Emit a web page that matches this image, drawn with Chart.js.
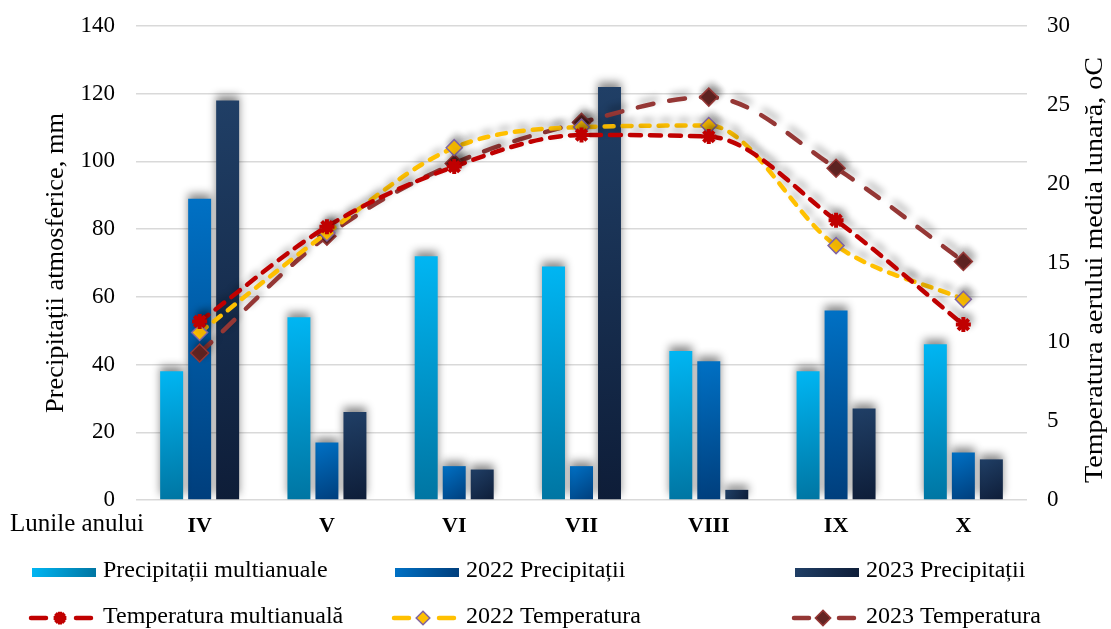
<!DOCTYPE html>
<html>
<head>
<meta charset="utf-8">
<script src="https://cdn.jsdelivr.net/npm/chart.js@4.4.1/dist/chart.umd.min.js"></script>
<style>
  html, body { margin: 0; padding: 0; background: #ffffff; }
  canvas { display: block; }
</style>
</head>
<body>
<canvas id="chart" width="1111" height="629"></canvas>
<script>
// Months of the growing season (Roman numerals)
const months = ['IV', 'V', 'VI', 'VII', 'VIII', 'IX', 'X'];

// Monthly precipitation, mm
const precipMulti = [38, 54, 72, 69, 44, 38, 46];
const precip2022  = [89, 17, 10, 10, 41, 56, 14];
const precip2023  = [118, 26, 9, 122, 3, 27, 12];

// Mean monthly air temperature, °C
const tempMulti = [11.3, 17.3, 21.1, 23.1, 23.0, 17.7, 11.1];
const temp2022  = [10.6, 16.9, 22.3, 23.6, 23.7, 16.1, 12.7];
const temp2023  = [9.3, 16.7, 21.3, 23.9, 25.5, 21.0, 15.1];

// Axis ranges and tick steps
const precipAxis = { min: 0, max: 140, step: 20 };
const tempAxis   = { min: 0, max: 30, step: 5 };

const SERIF = "'Liberation Serif', 'Times New Roman', serif";
const CAT_PCT = 0.66;
const BAR_PCT = 0.82;

// Per-bar diagonal gradient, computed from the bar's own scale position
function barGradient(light, dark) {
  return (c) => {
    const chart = c.chart;
    const area = chart.chartArea;
    if (!area || c.type !== 'data' || c.raw == null) return light;
    const xs = chart.scales.x, ys = chart.scales.y;
    const catW = area.width / months.length;
    const slot = catW * CAT_PCT / 3;
    const cx = xs.getPixelForValue(c.dataIndex) + (c.datasetIndex - 1) * slot;
    const half = slot * BAR_PCT / 2;
    const top = ys.getPixelForValue(c.raw);
    const bot = ys.getPixelForValue(0);
    const g = chart.ctx.createLinearGradient(cx - half, top, cx + half, bot);
    g.addColorStop(0, light);
    g.addColorStop(1, dark);
    return g;
  };
}

const barStyles = [
  ['#00B6F3', '#0075A2'],
  ['#0071C5', '#003E7C'],
  ['#203F66', '#0E1D38']
];

// Soft drop shadow under bars and lines
const shadowPlugin = {
  id: 'softShadow',
  beforeDatasetDraw(chart, args) {
    const ctx = chart.ctx;
    ctx.save();
    const isLine = args.meta.type === 'line';
    ctx.shadowColor = isLine ? 'rgba(0,0,0,0.32)' : 'rgba(0,0,0,0.45)';
    ctx.shadowBlur = isLine ? 7 : 9;
    ctx.shadowOffsetX = isLine ? 3 : 0;
    ctx.shadowOffsetY = -5;
  },
  afterDatasetDraw(chart) {
    chart.ctx.restore();
  }
};

// Rotated text stretched to a given length
function rotatedTitle(ctx, text, cx, cy, size, length) {
  ctx.save();
  ctx.translate(cx, cy);
  ctx.rotate(-Math.PI / 2);
  ctx.font = size + 'px ' + SERIF;
  ctx.textAlign = 'center';
  ctx.textBaseline = 'middle';
  const w = ctx.measureText(text).width;
  ctx.scale(length / w, 1);
  ctx.fillText(text, 0, 0);
  ctx.restore();
}

function drawMarkerPath(ctx, style, r, x, y) {
  if (style === 'rectRot') {
    ctx.moveTo(x, y - r); ctx.lineTo(x + r, y); ctx.lineTo(x, y + r); ctx.lineTo(x - r, y); ctx.closePath();
  } else {
    for (let k = 0; k < 4; k++) {
      const a = k * Math.PI / 4;
      ctx.moveTo(x + Math.cos(a) * r, y + Math.sin(a) * r);
      ctx.lineTo(x - Math.cos(a) * r, y - Math.sin(a) * r);
    }
  }
}

// Axis titles, the x-axis caption and the two-row legend
const decorPlugin = {
  id: 'decor',
  afterDraw(chart) {
    const ctx = chart.ctx;
    ctx.save();
    ctx.fillStyle = '#000';

    rotatedTitle(ctx, 'Precipitații atmosferice, mm', 56, 263, 25, 300);
    rotatedTitle(ctx, 'Temperatura aerului media lunară, oC', 1095, 270, 25, 426);

    // caption in front of the month labels
    ctx.textBaseline = 'middle';
    ctx.textAlign = 'left';
    ctx.font = '25px ' + SERIF;
    ctx.fillText('Lunile anului', 10, 524);

    // legend
    const cols = [32, 395, 795];
    const rows = [572, 618];
    const sw = 64;
    chart.data.datasets.forEach((ds, i) => {
      const col = i % 3, row = Math.floor(i / 3);
      const x = cols[col], y = rows[row];
      if (ds.type === 'bar') {
        const g = ctx.createLinearGradient(x, y - 4, x + sw, y + 4);
        g.addColorStop(0, ds.legendColors[0]);
        g.addColorStop(1, ds.legendColors[1]);
        ctx.fillStyle = g;
        ctx.fillRect(x, y - 4, sw, 9);
      } else {
        ctx.save();
        ctx.strokeStyle = ds.borderColor;
        ctx.lineWidth = 4.5;
        ctx.lineCap = 'round';
        ctx.beginPath();
        ctx.moveTo(x - 1, y); ctx.lineTo(x + 14, y);
        ctx.moveTo(x + 44, y); ctx.lineTo(x + 59, y);
        ctx.stroke();
        ctx.fillStyle = ds.pointBackgroundColor;
        ctx.strokeStyle = ds.pointBorderColor;
        ctx.lineWidth = ds.pointBorderWidth;
        ctx.lineCap = 'butt';
        ctx.beginPath();
        drawMarkerPath(ctx, ds.pointStyle, ds.pointRadius * 0.85, x + 28, y);
        if (ds.pointStyle !== 'star') ctx.fill();
        ctx.stroke();
        ctx.restore();
      }
      ctx.fillStyle = '#000';
      ctx.textAlign = 'left';
      ctx.textBaseline = 'middle';
      ctx.font = '24px ' + SERIF;
      ctx.fillText(ds.label, x + sw + 7, y - 1);
    });
    ctx.restore();
  }
};

function barDataset(label, data, idx) {
  return {
    type: 'bar',
    label,
    data,
    yAxisID: 'y',
    order: 2,
    backgroundColor: barGradient(barStyles[idx][0], barStyles[idx][1]),
    legendColors: barStyles[idx],
    categoryPercentage: CAT_PCT,
    barPercentage: BAR_PCT,
    borderWidth: 0
  };
}

function lineDataset(label, data, opts) {
  return Object.assign({
    type: 'line',
    label,
    data,
    yAxisID: 'y1',
    order: 1,
    fill: false,
    cubicInterpolationMode: 'monotone',
    borderWidth: 4.5,
    borderCapStyle: 'round'
  }, opts);
}

// Vertical axes: fixed width, and no extra top/bottom room from tick padding
function fixVertical(width) {
  return (scale) => {
    scale.width = width;
    scale.paddingTop = 12;
    scale.paddingBottom = 12;
  };
}

const chart = new Chart(document.getElementById('chart'), {
  data: {
    labels: months,
    datasets: [
      barDataset('Precipitații multianuale', precipMulti, 0),
      barDataset('2022 Precipitații', precip2022, 1),
      barDataset('2023 Precipitații', precip2023, 2),
      lineDataset('Temperatura multianuală', tempMulti, {
        borderColor: '#C00000',
        borderDash: [11, 9],
        pointStyle: 'star',
        pointRadius: 7.5,
        pointBorderWidth: 4,
        pointBackgroundColor: '#C00000',
        pointBorderColor: '#C00000'
      }),
      lineDataset('2022 Temperatura', temp2022, {
        borderColor: '#FFC000',
        borderDash: [9, 9],
        pointStyle: 'rectRot',
        pointRadius: 8,
        pointBorderWidth: 1.5,
        pointBackgroundColor: '#FFC000',
        pointBorderColor: '#8064A2'
      }),
      lineDataset('2023 Temperatura', temp2023, {
        borderColor: '#953735',
        borderDash: [16, 16],
        pointStyle: 'rectRot',
        pointRadius: 9,
        pointBorderWidth: 1.5,
        pointBackgroundColor: '#632523',
        pointBorderColor: '#953735'
      })
    ]
  },
  options: {
    responsive: false,
    devicePixelRatio: 1,
    animation: false,
    layout: { padding: { top: 26, bottom: 84, left: 0, right: 0 } },
    plugins: {
      legend: { display: false },
      tooltip: { enabled: false }
    },
    scales: {
      x: {
        grid: { display: false },
        border: { display: false },
        ticks: {
          color: '#000',
          padding: 5,
          font: { family: SERIF, size: 22, weight: 'bold' }
        },
        afterFit(scale) { scale.height = 45; }
      },
      y: {
        position: 'left',
        min: precipAxis.min,
        max: precipAxis.max,
        border: { display: false },
        grid: { color: '#D9D9D9', lineWidth: 1.5, drawTicks: false },
        ticks: {
          stepSize: precipAxis.step,
          color: '#000',
          padding: 21,
          font: { family: SERIF, size: 23 }
        },
        afterFit: fixVertical(136)
      },
      y1: {
        position: 'right',
        min: tempAxis.min,
        max: tempAxis.max,
        border: { display: false },
        grid: { display: false, drawTicks: false },
        ticks: {
          stepSize: tempAxis.step,
          color: '#000',
          padding: 20,
          font: { family: SERIF, size: 23 }
        },
        afterFit: fixVertical(84)
      }
    }
  },
  plugins: [shadowPlugin, decorPlugin]
});
</script>
</body>
</html>
